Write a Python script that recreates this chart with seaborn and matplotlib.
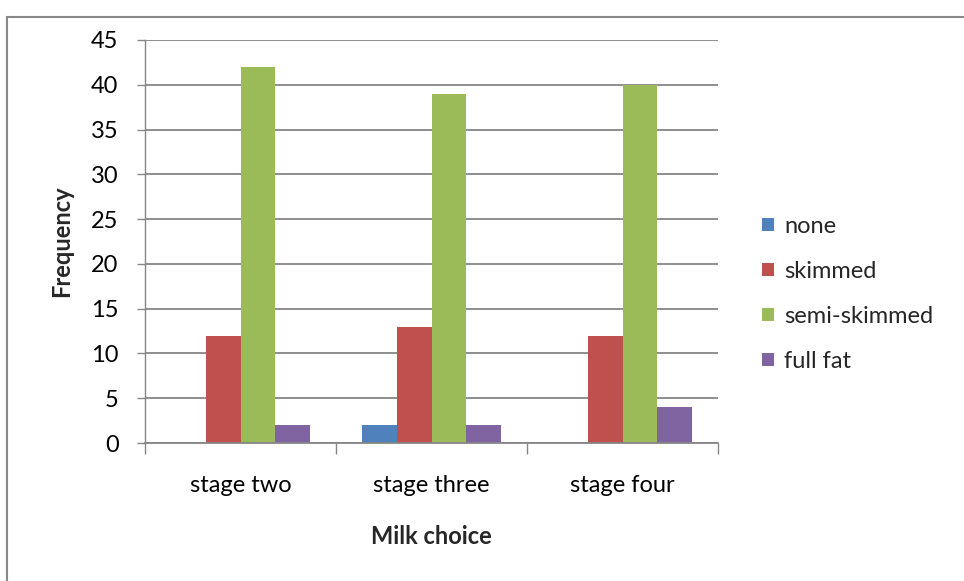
import matplotlib
matplotlib.use("Agg")
import matplotlib.pyplot as plt
from matplotlib.patches import Rectangle
from matplotlib.ticker import FixedLocator
import seaborn as sns
import pandas as pd

stages = ["stage two", "stage three", "stage four"]
choices = ["none", "skimmed", "semi-skimmed", "full fat"]
none_vals = [0, 2, 0]
skimmed_vals = [12, 13, 12]
semi_vals = [42, 39, 40]
full_vals = [2, 2, 4]
colors = ["#4F81BD", "#C0504D", "#9BBB59", "#8064A2"]

series = [none_vals, skimmed_vals, semi_vals, full_vals]
rows = []
for choice, vals in zip(choices, series):
    for stage, v in zip(stages, vals):
        rows.append({"stage": stage, "choice": choice, "freq": v})
df = pd.DataFrame(rows)

sns.set_theme(style="white")
plt.rcParams["font.family"] = ["Lato", "DejaVu Sans"]

FS = 17

fig = plt.figure(figsize=(9.64, 5.81), dpi=100)
ax = fig.add_axes([145 / 964, 1 - 443 / 581, (718 - 145) / 964, (443 - 40) / 581])

sns.barplot(data=df, x="stage", y="freq", hue="choice", order=stages,
            hue_order=choices, palette=colors, saturation=1, width=0.73,
            linewidth=0, ax=ax, errorbar=None)

grid_c = "#868686"
ax.set_ylim(0, 45)
ax.set_xlim(-0.5, 2.5)
ax.set_yticks(range(0, 46, 5))
ax.yaxis.grid(True, color=grid_c, linewidth=1.3)
ax.set_axisbelow(True)
for s in ["top", "right"]:
    ax.spines[s].set_visible(False)
ax.spines["left"].set_color(grid_c)
ax.spines["bottom"].set_color(grid_c)
ax.spines["left"].set_linewidth(1.0)
ax.spines["bottom"].set_linewidth(1.3)

ax.tick_params(axis="y", which="major", length=6, width=1.0, color=grid_c,
               labelsize=FS, pad=13, left=True, labelcolor="black")
ax.tick_params(axis="x", which="major", length=0, labelsize=FS, pad=23,
               labelcolor="black")
ax.xaxis.set_minor_locator(FixedLocator([-0.5, 0.5, 1.5, 2.5]))
ax.tick_params(axis="x", which="minor", length=8, width=1.0, color=grid_c,
               bottom=True)

ax.set_xlabel("Milk choice", fontsize=FS, fontweight="bold", labelpad=21)
ax.set_ylabel("Frequency", fontsize=FS, fontweight="bold", labelpad=13)

handles, labels = ax.get_legend_handles_labels()
ax.get_legend().remove()
fig.legend(handles, labels, loc="center left",
           bbox_to_anchor=(762 / 964, 1 - 294 / 581),
           bbox_transform=fig.transFigure, frameon=False, fontsize=FS,
           handlelength=0.5, handleheight=0.5, handletextpad=0.45,
           labelspacing=1.02, borderpad=0, borderaxespad=0)

fig.patches.append(Rectangle((7 / 964, -0.05), 1.2, 1 - 17 / 581 + 0.05,
                             transform=fig.transFigure, fill=False,
                             edgecolor="#888888", linewidth=1.5))

fig.savefig("out.png", dpi=100)
